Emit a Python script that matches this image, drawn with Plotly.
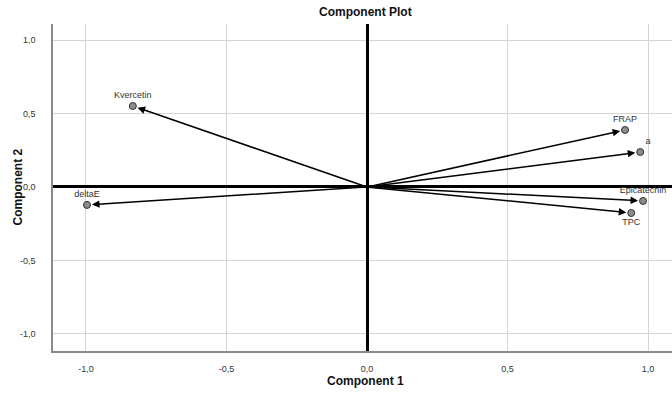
import plotly.graph_objects as go

variables = ["Kvercetin", "deltaE", "FRAP", "a", "Epicatechin", "TPC"]
comp1 = [-0.833, -0.996, 0.918, 0.972, 0.982, 0.940]
comp2 = [0.551, -0.122, 0.388, 0.238, -0.095, -0.177]
label_pos = ["top center", "top center", "top center", "top right", "top center", "bottom center"]

tick_vals = [-1.0, -0.5, 0.0, 0.5, 1.0]
tick_text = ["-1,0", "-0,5", "0,0", "0,5", "1,0"]

font = "Liberation Sans, Arial, sans-serif"

fig = go.Figure()
fig.add_trace(go.Scatter(
    x=comp1, y=comp2, mode="markers+text", text=variables,
    textposition=label_pos, cliponaxis=True,
    textfont=dict(family=font, size=9, color="#333333"),
    marker=dict(size=7, color="#8c8c8c", line=dict(color="#333333", width=1)),
    showlegend=False, hoverinfo="skip"))

for x, y in zip(comp1, comp2):
    fig.add_annotation(x=x, y=y, ax=0, ay=0, xref="x", yref="y", axref="x", ayref="y",
                       text="", showarrow=True, arrowhead=2, arrowsize=1, arrowwidth=1.5,
                       arrowcolor="#000000", standoff=5)

title_font = dict(family=font, size=12, color="#111111")
fig.add_annotation(text="<b>Component Plot</b>", xref="paper", yref="paper", x=0.505, y=1.0,
                   yshift=12, xanchor="center", yanchor="middle", showarrow=False, font=title_font)
fig.add_annotation(text="<b>Component 1</b>", xref="paper", yref="paper", x=0.505, y=0,
                   yshift=-30, xanchor="center", yanchor="middle", showarrow=False, font=title_font)
fig.add_annotation(text="<b>Component 2</b>", xref="paper", yref="paper", x=0, y=0.5,
                   xshift=-36, xanchor="center", yanchor="middle", textangle=-90,
                   showarrow=False, font=title_font)

fig.update_layout(
    width=672, height=394,
    margin=dict(l=53, r=0, t=24, b=43),
    paper_bgcolor="white", plot_bgcolor="white",
    font=dict(family=font, color="#333333"),
)
fig.update_xaxes(range=[-1.117, 1.085], tickvals=tick_vals, ticktext=tick_text,
                 showgrid=True, gridcolor="#d4d4d4", gridwidth=1,
                 zeroline=True, zerolinecolor="#000000", zerolinewidth=2.5,
                 showline=True, linecolor="#8a8a8a", linewidth=1.5,
                 ticks="", ticklabelstandoff=8, automargin=False,
                 tickfont=dict(family=font, size=9, color="#333333"))
fig.update_yaxes(range=[-1.116, 1.109], tickvals=tick_vals, ticktext=tick_text,
                 showgrid=True, gridcolor="#d4d4d4", gridwidth=1,
                 zeroline=True, zerolinecolor="#000000", zerolinewidth=3,
                 showline=True, linecolor="#8a8a8a", linewidth=1.5,
                 ticks="", ticklabelstandoff=14, automargin=False,
                 tickfont=dict(family=font, size=9, color="#333333"))

fig.write_html("out.html", config={"displayModeBar": False},
               post_script="document.body.style.margin='0';document.body.style.overflow='hidden';")
